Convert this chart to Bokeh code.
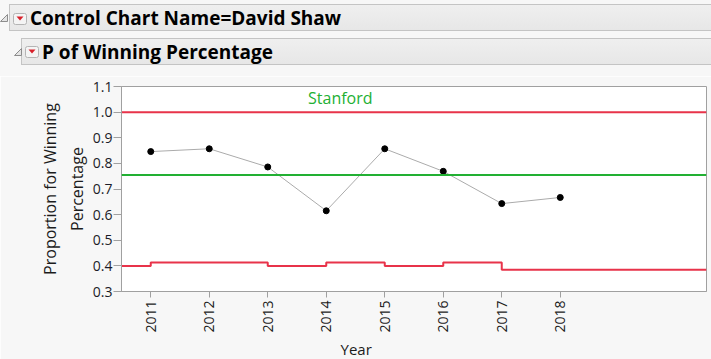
import math
from bokeh.plotting import figure
from bokeh.models import Range1d, FixedTicker, PrintfTickFormatter, Span, Div, Title
from bokeh.layouts import column
from bokeh.embed import file_html
from bokeh.resources import INLINE
from bokeh.core.properties import value

# ---- data ----
years = [2011, 2012, 2013, 2014, 2015, 2016, 2017, 2018]
win_pct = [0.846, 0.857, 0.786, 0.615, 0.857, 0.769, 0.643, 0.667]
center_line = 0.755
ucl = [1.0, 1.0, 1.0, 1.0, 1.0, 1.0, 1.0, 1.0]
lcl = [0.400, 0.413, 0.413, 0.400, 0.413, 0.400, 0.413, 0.385]
y_ticks = [0.3, 0.4, 0.5, 0.6, 0.7, 0.8, 0.9, 1.0, 1.1]
center_label = "Stanford"
title_main = "Control Chart Name=David Shaw"
title_sub = "P of Winning Percentage"
x_label = "Year"
y_label = "Proportion for Winning\nPercentage"

FONT = "Open Sans"
BG = "#f7f7f7"
RED = "#e8334a"
GREEN = "#22b033"
W = 711
HH = 76
PH = 283


def dropdown(left, top):
    return (f'<svg style="position:absolute;left:{left}px;top:{top}px" width="14" height="12">'
            f'<rect x="0.5" y="0.5" width="13" height="11" rx="2" fill="#f4f4f4" stroke="#b4b4b4"/>'
            f'<polygon points="3.5,3.5 10.5,3.5 7,7.5" fill="#d8202a"/></svg>')


def twisty(left, top):
    return (f'<svg style="position:absolute;left:{left}px;top:{top}px" width="8" height="8">'
            f'<polygon points="0.5,7.5 7.5,7.5 7.5,0.5" fill="#e4e4e4" stroke="#8c8c8c"/></svg>')


bar = ("position:absolute;left:{l}px;top:{t}px;width:720px;height:27px;"
       "background:linear-gradient(#efefef,#e7e7e7);border:1px solid #c4c4c4;")
txt = ("position:absolute;left:{l}px;top:{t}px;height:28px;line-height:28px;"
       "font-family:'Open Sans';font-weight:bold;font-size:19px;color:black;white-space:nowrap;")

html = (f'<div style="position:relative;width:{W}px;height:{HH}px;background:{BG};overflow:hidden;">'
        + f'<div style="{bar.format(l=9, t=4)}"></div>'
        + f'<div style="{bar.format(l=21, t=38)}"></div>'
        + twisty(0, 14)
        + twisty(14, 48)
        + dropdown(13, 13)
        + dropdown(25, 46)
        + f'<div style="{txt.format(l=30, t=4)}">{title_main}</div>'
        + f'<div style="{txt.format(l=42, t=38)}">{title_sub}</div>'
        + '</div>')

hdr = Div(text=html, width=W, height=HH, margin=(0, 0, 0, 0))

# ---- control chart ----
x0 = years[0] - 0.5
x1 = years[-1] + 2.5
p = figure(width=W, height=PH, x_range=Range1d(x0, x1), y_range=Range1d(y_ticks[0], y_ticks[-1]),
           output_backend="svg", toolbar_location=None,
           min_border_left=121, min_border_right=5, min_border_top=10, min_border_bottom=65,
           background_fill_color="white", border_fill_color=BG,
           outline_line_color="#a0a0a0", outline_line_width=1, margin=(0, 0, 0, 0))
p.grid.visible = False

step_x = [x0] + years + [x1]
p.step(x=step_x, y=[ucl[0]] + ucl + [ucl[-1]], mode="before", line_color=RED, line_width=2)
p.step(x=step_x, y=[lcl[0]] + lcl + [lcl[-1]], mode="before", line_color=RED, line_width=2)
p.add_layout(Span(location=center_line, dimension="width", line_color=GREEN, line_width=2))

p.line(x=years, y=win_pct, line_color="#ababab", line_width=1)
p.scatter(x=years, y=win_pct, size=6, fill_color="black", line_color="black")

p.text(x=[years[0] + 3.24], y=[1.057], text=[center_label], text_font=value(FONT),
       text_font_size="16px", text_color=GREEN, text_align="center", text_baseline="middle")

# axes
yax = p.yaxis[0]
yax.ticker = FixedTicker(ticks=y_ticks)
yax.formatter = PrintfTickFormatter(format="%.1f")
yax.major_label_text_font = FONT
yax.major_label_text_font_size = "14px"
yax.major_label_text_color = "#1c1c28"
yax.major_label_standoff = 1
yax.major_tick_out = 8
yax.major_tick_in = 0
yax.minor_tick_out = 0
yax.minor_tick_in = 0
yax.major_tick_line_color = "#a0a0a0"
yax.axis_line_color = "#a0a0a0"
yax.axis_label = y_label
yax.axis_label_text_font = FONT
yax.axis_label_text_font_size = "16px"
yax.axis_label_text_font_style = "normal"
yax.axis_label_text_color = "#1c1c1c"
yax.axis_label_standoff = 2

xax = p.xaxis[0]
xax.ticker = FixedTicker(ticks=years)
xax.major_label_orientation = math.pi / 2
xax.major_label_text_font = FONT
xax.major_label_text_font_size = "14px"
xax.major_label_text_color = "#1c1c1c"
xax.major_label_standoff = 3
xax.major_tick_out = 6
xax.major_tick_in = 0
xax.minor_tick_out = 0
xax.minor_tick_in = 0
xax.major_tick_line_color = "#a0a0a0"
xax.axis_line_color = "#a0a0a0"

# x-axis title centred under the ticked years (as in the original), placed below the axis
p.add_layout(Title(text=x_label, align="left", offset=219, standoff=2,
                   text_font=FONT, text_font_size="15px", text_font_style="normal",
                   text_color="#1c1c1c"), "below")

layout = column(hdr, p, margin=(0, 0, 0, 0), spacing=0)
open("out.html", "w").write(file_html(layout, INLINE))
